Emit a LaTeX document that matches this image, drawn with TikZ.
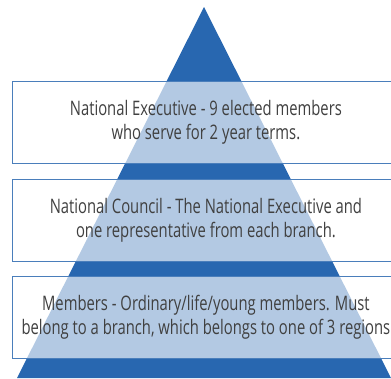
\documentclass[tikz,border=0pt]{standalone}
\usepackage{fontspec}
\setmainfont{Open Sans}[FakeStretch=0.74]
\usetikzlibrary{positioning}

\definecolor{pyrblue}{RGB}{40,103,176}
\definecolor{tierline}{RGB}{74,126,187}
\definecolor{tiertext}{RGB}{64,64,64}

\begin{document}
\begin{tikzpicture}[x=1pt, y=-1pt,
    tier/.style={draw=tierline, line width=0.8pt, fill=white, fill opacity=0.65,
      text opacity=1, text=tiertext, align=center, anchor=north west,
      minimum width=387pt, minimum height=82pt, inner sep=0pt,
      font=\fontsize{20}{24}\selectfont}]
    \useasboundingbox (0,0) rectangle (391,378);

    % the pyramid
    \coordinate (top) at (204,7);
    \coordinate (left) at (17,378);
    \coordinate (right) at (391,378);
    \fill [pyrblue] (left) -- (top) -- (right) -- cycle;

    % the three tiers
    \node[tier] (exec) at (12,81) {National Executive - 9 elected members\\who serve for 2 year terms.};
    \node[tier] (council) at (12,179) {National Council - The National Executive and\\one representative from each branch.};
    \node[tier] (members) at (12,276) {Members - Ordinary/life/young members. Must\\belong to a branch, which belongs to one of 3 regions};
\end{tikzpicture}
\end{document}
